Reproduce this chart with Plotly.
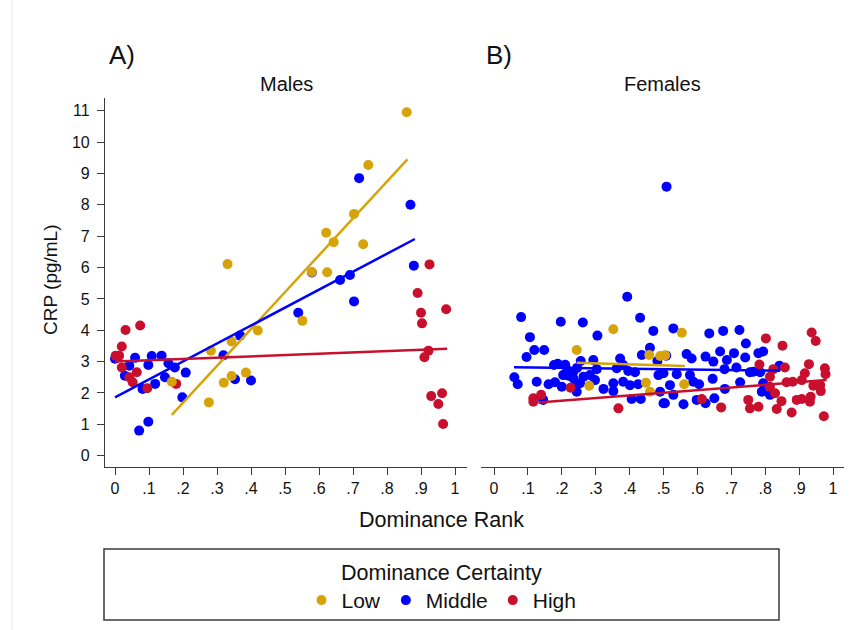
import plotly.graph_objects as go

W, H = 856, 630

# ---------------- data ----------------
tick_vals_x = [0, 0.1, 0.2, 0.3, 0.4, 0.5, 0.6, 0.7, 0.8, 0.9, 1]
tick_text_x = ["0", ".1", ".2", ".3", ".4", ".5", ".6", ".7", ".8", ".9", "1"]
tick_vals_y = list(range(0, 12))

groups = ["Low", "Middle", "High"]
colors = {"Low": "#D6A40A", "Middle": "#0000FF", "High": "#C8102E"}

# Males
male_low_x = [0.167, 0.276, 0.282, 0.331, 0.343, 0.320, 0.343, 0.385, 0.420, 0.551, 0.579, 0.624,
              0.621, 0.643, 0.703, 0.730, 0.745, 0.858]
male_low_y = [2.36, 1.70, 3.35, 6.11, 3.64, 2.33, 2.54, 2.65, 3.99, 4.30, 5.86, 5.85,
              7.11, 6.81, 7.71, 6.74, 9.27, 10.95]
male_mid_x = [0.000, 0.059, 0.108, 0.137, 0.042, 0.098, 0.157, 0.176, 0.029, 0.147, 0.118, 0.081,
              0.208, 0.198, 0.098, 0.071, 0.319, 0.353, 0.368, 0.400, 0.539, 0.662, 0.691, 0.703,
              0.718, 0.869, 0.879, 0.579]
male_mid_y = [3.09, 3.12, 3.18, 3.19, 2.87, 2.89, 2.95, 2.81, 2.55, 2.50, 2.29, 2.13,
              2.65, 1.86, 1.08, 0.80, 3.20, 2.44, 3.83, 2.40, 4.56, 5.60, 5.76, 4.92,
              8.85, 8.00, 6.06, 5.84]
male_high_x = [0.031, 0.074, 0.020, 0.002, 0.012, 0.020, 0.042, 0.052, 0.064, 0.095, 0.180,
               0.925, 0.890, 0.900, 0.903, 0.974, 0.922, 0.910, 0.930, 0.962, 0.951, 0.965]
male_high_y = [4.01, 4.15, 3.48, 3.19, 3.19, 2.81, 2.50, 2.34, 2.66, 2.15, 2.29,
               6.10, 5.19, 4.56, 4.22, 4.67, 3.35, 3.14, 1.90, 1.99, 1.65, 1.01]

# Females
fem_low_x = [0.244, 0.352, 0.458, 0.490, 0.505, 0.281, 0.448, 0.460, 0.554, 0.561]
fem_low_y = [3.37, 4.03, 3.21, 3.18, 3.20, 2.23, 2.33, 2.04, 3.92, 2.28]
fem_mid_x = [0.080, 0.197, 0.106, 0.119, 0.148, 0.096, 0.188, 0.177, 0.216, 0.204, 0.229, 0.060,
             0.070, 0.126, 0.161, 0.180, 0.200, 0.145, 0.234, 0.220, 0.245, 0.210,
             0.393, 0.262, 0.431, 0.305, 0.470, 0.460, 0.436, 0.256, 0.293, 0.372, 0.303, 0.362,
             0.381, 0.396, 0.416, 0.234, 0.234, 0.264, 0.283, 0.254, 0.298, 0.323, 0.352, 0.381,
             0.401, 0.425, 0.352, 0.244, 0.406, 0.433, 0.485, 0.490, 0.500, 0.482,
             0.529, 0.635, 0.676, 0.724, 0.743, 0.667, 0.708, 0.568, 0.583, 0.624, 0.647, 0.687,
             0.741, 0.508, 0.680, 0.715, 0.755, 0.500, 0.539, 0.578, 0.605, 0.645, 0.726, 0.519,
             0.588, 0.681, 0.529, 0.504, 0.559, 0.598, 0.624, 0.650,
             0.780, 0.794, 0.765, 0.785, 0.842, 0.794, 0.790, 0.814, 0.509]
fem_mid_y = [4.42, 4.27, 3.78, 3.37, 3.37, 3.15, 2.93, 2.89, 2.73, 2.57, 2.66, 2.50,
             2.28, 2.36, 2.28, 2.34, 2.20, 1.78, 2.20, 2.55, 2.80, 2.90,
             5.07, 4.25, 4.40, 3.83, 3.98, 3.44, 3.21, 3.02, 3.05, 3.10, 2.76, 2.79,
             2.89, 2.70, 2.66, 2.68, 2.47, 2.52, 2.57, 2.31, 2.41, 2.13, 2.31, 2.36,
             2.25, 2.28, 2.06, 2.04, 1.81, 1.81, 2.57, 2.04, 1.67, 3.02,
             4.06, 3.90, 3.98, 4.01, 3.58, 3.32, 3.27, 3.24, 3.10, 3.16, 3.00, 3.05,
             3.13, 3.19, 2.76, 2.81, 2.66, 2.63, 2.60, 2.57, 2.28, 2.45, 2.34, 2.25,
             2.36, 2.13, 1.94, 1.67, 1.64, 1.78, 1.67, 1.83,
             3.27, 3.32, 2.68, 2.66, 2.87, 2.31, 2.04, 1.94, 8.58]
fem_high_x = [0.116, 0.116, 0.139, 0.226, 0.367, 0.613, 0.670, 0.750, 0.755,
              0.937, 0.949, 0.802, 0.851, 0.783, 0.858, 0.929, 0.976, 0.978, 0.917, 0.824,
              0.814, 0.908, 0.863, 0.881, 0.942, 0.962, 0.964, 0.814, 0.829, 0.848, 0.893,
              0.908, 0.932, 0.934, 0.780, 0.834, 0.878, 0.973]
fem_high_y = [1.83, 1.72, 1.94, 2.17, 1.51, 1.81, 1.54, 1.78, 1.51,
              3.93, 3.66, 3.74, 3.51, 2.91, 2.81, 2.92, 2.79, 2.60, 2.63, 2.76,
              2.52, 2.41, 2.34, 2.36, 2.23, 2.25, 2.06, 2.20, 1.99, 1.74, 1.78,
              1.81, 1.72, 1.88, 1.56, 1.49, 1.38, 1.26]

# Fitted lines (endpoints)
fit_male_x = {"Low": [0.167, 0.860], "Middle": [0.000, 0.882], "High": [0.000, 0.977]}
fit_male_y = {"Low": [1.30, 9.45], "Middle": [1.86, 6.91], "High": [3.00, 3.41]}
fit_fem_x = {"Low": [0.244, 0.563], "Middle": [0.059, 0.844], "High": [0.131, 0.981]}
fit_fem_y = {"Low": [2.96, 2.86], "Middle": [2.82, 2.71], "High": [1.70, 2.41]}

male_pts = {"Low": (male_low_x, male_low_y), "Middle": (male_mid_x, male_mid_y),
            "High": (male_high_x, male_high_y)}
fem_pts = {"Low": (fem_low_x, fem_low_y), "Middle": (fem_mid_x, fem_mid_y),
           "High": (fem_high_x, fem_high_y)}

FONT = "Liberation Sans, Arial, Helvetica, sans-serif"

def px(x):
    return x / W

def py(y):
    return 1 - y / H

fig = go.Figure()

draw_order = ["Middle", "High", "Low"]
for g in draw_order:
    xs, ys = male_pts[g]
    fig.add_trace(go.Scatter(x=xs, y=ys, mode="markers", name=g, legendgroup=g,
                             legendrank={"Low": 1, "Middle": 2, "High": 3}[g],
                             marker=dict(color=colors[g], size=10, line=dict(width=0)),
                             xaxis="x", yaxis="y", showlegend=True))
    xs, ys = fem_pts[g]
    fig.add_trace(go.Scatter(x=xs, y=ys, mode="markers", name=g, legendgroup=g,
                             marker=dict(color=colors[g], size=10, line=dict(width=0)),
                             xaxis="x2", yaxis="y2", showlegend=False))

for g in groups:
    fig.add_trace(go.Scatter(x=fit_male_x[g], y=fit_male_y[g], mode="lines", legendgroup=g,
                             line=dict(color=colors[g], width=2.5), xaxis="x", yaxis="y",
                             showlegend=False, hoverinfo="skip"))
    fig.add_trace(go.Scatter(x=fit_fem_x[g], y=fit_fem_y[g], mode="lines", legendgroup=g,
                             line=dict(color=colors[g], width=2.5), xaxis="x2", yaxis="y2",
                             showlegend=False, hoverinfo="skip"))

axis_common = dict(showgrid=False, zeroline=False, showline=True, linecolor="#3a3a3a",
                   linewidth=1.2, ticks="outside", ticklen=7, tickwidth=1, tickcolor="#3a3a3a",
                   tickfont=dict(family=FONT, size=16, color="#111"))

y_dom = [py(467), py(98)]
y_rng = [(455.7 - 467) / 31.36, (455.7 - 98) / 31.36]

fig.update_layout(
    width=W, height=H, autosize=False,
    margin=dict(l=0, r=0, t=0, b=0),
    paper_bgcolor="white", plot_bgcolor="white",
    font=dict(family=FONT, color="#111"),
    xaxis=dict(domain=[px(105), px(467)], range=[(105 - 115) / 340, (467 - 115) / 340],
               tickvals=tick_vals_x, ticktext=tick_text_x, anchor="y", **axis_common),
    xaxis2=dict(domain=[px(481), px(844)], range=[(481 - 494) / 339, (844 - 494) / 339],
                tickvals=tick_vals_x, ticktext=tick_text_x, anchor="y2", **axis_common),
    yaxis=dict(domain=y_dom, range=y_rng, tickvals=tick_vals_y, anchor="x",
               ticklabelstandoff=4, **axis_common),
    yaxis2=dict(domain=y_dom, range=y_rng, anchor="x2", showline=False, showgrid=False,
                zeroline=False, showticklabels=False, ticks=""),
    showlegend=True,
    legend=dict(orientation="h", x=px(441.5), xanchor="center", y=py(552), yanchor="top",
                bgcolor="rgba(0,0,0,0)", borderwidth=0, itemwidth=30,
                font=dict(family=FONT, size=21, color="#111"),
                title=dict(text="Dominance Certainty", side="top center",
                           font=dict(family=FONT, size=21.5, color="#111")),
                traceorder="normal"),
)

ann = [
    dict(text="A)", x=px(107), y=py(55), xanchor="left", yanchor="middle", size=26),
    dict(text="B)", x=px(484), y=py(55), xanchor="left", yanchor="middle", size=26),
    dict(text="Males", x=px(286), y=py(84), xanchor="center", yanchor="middle", size=20),
    dict(text="Females", x=px(662), y=py(84), xanchor="center", yanchor="middle", size=20),
    dict(text="Dominance Rank", x=px(441.5), y=py(520), xanchor="center", yanchor="middle", size=21.5),
]
for a in ann:
    fig.add_annotation(text=a["text"], x=a["x"], y=a["y"], xref="paper", yref="paper",
                       xanchor=a["xanchor"], yanchor=a["yanchor"], showarrow=False,
                       font=dict(family=FONT, size=a["size"], color="#111"))
fig.add_annotation(text="CRP (pg/mL)", x=px(50), y=py(280), xref="paper", yref="paper",
                   textangle=-90, showarrow=False, xanchor="center", yanchor="middle",
                   font=dict(family=FONT, size=19, color="#111"))

# legend frame
fig.add_shape(type="rect", xref="paper", yref="paper", x0=px(104), x1=px(779),
              y0=py(620), y1=py(549), line=dict(color="#3a3a3a", width=1.5))
# faint image border at left
fig.add_shape(type="line", xref="paper", yref="paper", x0=px(12), x1=px(12), y0=0, y1=1,
              line=dict(color="#e6ecec", width=1))

fig.write_html("out.html")
